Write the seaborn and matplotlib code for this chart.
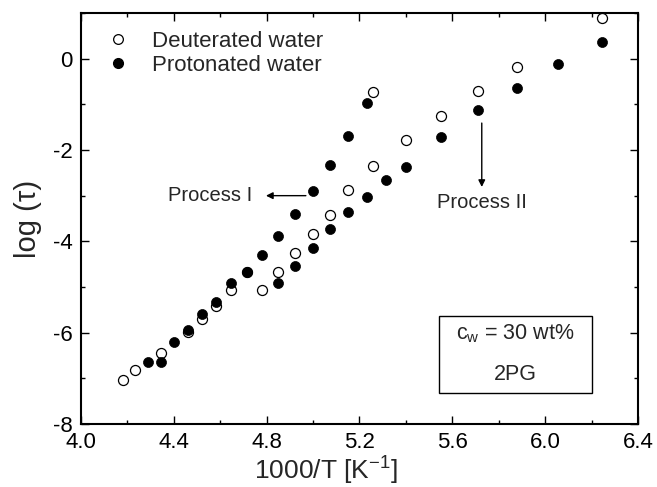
import matplotlib
matplotlib.use("Agg")
import matplotlib.pyplot as plt
from matplotlib.patches import Rectangle
from matplotlib.lines import Line2D
from matplotlib.ticker import MultipleLocator
import seaborn as sns
import pandas as pd

# Deuterated water (open circles)
deut_x = [4.180, 4.233, 4.344, 4.460, 4.522, 4.582, 4.647, 4.715, 4.780, 4.850,
          4.923, 4.998, 5.073, 5.152, 5.259, 5.259, 5.400, 5.553, 5.711, 5.878, 6.246]
deut_y = [-7.04, -6.82, -6.45, -5.98, -5.70, -5.42, -5.07, -4.68, -5.07, -4.67,
          -4.25, -3.84, -3.43, -2.88, -2.36, -0.74, -1.79, -1.25, -0.71, -0.18, 0.88]

# Protonated water (filled circles)
prot_x = [4.288, 4.344, 4.402, 4.460, 4.522, 4.582, 4.647, 4.715, 4.780, 4.850,
          4.850, 4.923, 4.923, 4.998, 4.998, 5.073, 5.073, 5.152, 5.152, 5.232,
          5.232, 5.316, 5.400, 5.553, 5.711, 5.878, 6.057, 6.246]
prot_y = [-6.64, -6.64, -6.21, -5.94, -5.59, -5.32, -4.91, -4.68, -4.30, -3.88,
          -4.91, -3.40, -4.54, -2.89, -4.14, -2.32, -3.74, -1.70, -3.35, -0.98,
          -3.03, -2.66, -2.37, -1.71, -1.13, -0.65, -0.11, 0.36]

series_labels = ["Deuterated water", "Protonated water"]
x_ticks = [4.0, 4.4, 4.8, 5.2, 5.6, 6.0, 6.4]
y_ticks = [-8, -6, -4, -2, 0]

sns.set_style("ticks")
plt.rcParams["font.family"] = ["Liberation Sans", "DejaVu Sans"]
plt.rcParams["mathtext.fontset"] = "custom"
plt.rcParams["mathtext.rm"] = "Liberation Sans"
plt.rcParams["mathtext.it"] = "Liberation Sans:italic"

fig = plt.figure(figsize=(6.57, 4.87), dpi=100)
ax = fig.add_axes([0.1233, 0.1294, 0.8477, 0.8439])

df_d = pd.DataFrame({"x": deut_x, "y": deut_y})
df_p = pd.DataFrame({"x": prot_x, "y": prot_y})
sns.scatterplot(data=df_d, x="x", y="y", ax=ax, s=52, facecolor="white",
                edgecolor="black", linewidth=0.9, zorder=3)
sns.scatterplot(data=df_p, x="x", y="y", ax=ax, s=52, color="black",
                edgecolor="black", linewidth=0.5, zorder=4)

ax.set_xlim(4.0, 6.4)
ax.set_ylim(-8, 1)
ax.set_xticks(x_ticks)
ax.set_xticklabels([f"{v:.1f}" for v in x_ticks])
ax.set_yticks(y_ticks)
ax.set_yticklabels([str(v) for v in y_ticks])
ax.xaxis.set_minor_locator(MultipleLocator(0.2))
ax.yaxis.set_minor_locator(MultipleLocator(1))
ax.tick_params(which="both", direction="in", top=True, right=True,
               labelsize=16, width=1.0, colors="black")
ax.tick_params(which="major", length=6, pad=6)
ax.tick_params(which="minor", length=3)
for sp in ax.spines.values():
    sp.set_linewidth(1.5)
    sp.set_color("black")

ax.set_xlabel("1000/T [K$^{\\mathrm{-1}}$]", fontsize=19, labelpad=2)
ax.xaxis.set_label_coords(0.44, -0.075)
ax.set_ylabel("log (τ)", fontsize=21, labelpad=8)

handles = [
    Line2D([], [], marker="o", linestyle="none", markersize=7,
           markerfacecolor="white", markeredgecolor="black", markeredgewidth=0.9),
    Line2D([], [], marker="o", linestyle="none", markersize=7,
           markerfacecolor="black", markeredgecolor="black"),
]
ax.legend(handles, series_labels, loc="upper left", frameon=False, fontsize=16,
          bbox_to_anchor=(0.015, 0.995), handletextpad=0.9, labelspacing=0.15,
          borderaxespad=0.3, handlelength=1.2)

# Process annotations
ax.annotate("", xy=(4.797, -3.0), xytext=(4.969, -3.0),
            arrowprops=dict(arrowstyle="-|>", lw=1.0, color="black",
                            mutation_scale=10, shrinkA=0, shrinkB=0))
ax.text(4.738, -3.0, "Process I", fontsize=14.5, ha="right", va="center")
ax.annotate("", xy=(5.727, -2.81), xytext=(5.727, -1.41),
            arrowprops=dict(arrowstyle="-|>", lw=1.0, color="black",
                            mutation_scale=10, shrinkA=0, shrinkB=0))
ax.text(5.727, -3.14, "Process II", fontsize=14.5, ha="center", va="center")

# Info box
ax.add_patch(Rectangle((5.543, -7.33), 0.66, 1.69, fill=False,
                       edgecolor="black", linewidth=1.0, zorder=2))
ax.text(5.873, -6.02, "c$_{\\mathrm{w}}$ = 30 wt%", fontsize=15.5,
        ha="center", va="center")
ax.text(5.873, -6.91, "2PG", fontsize=15.5, ha="center", va="center")

fig.savefig("out.png", dpi=100)
